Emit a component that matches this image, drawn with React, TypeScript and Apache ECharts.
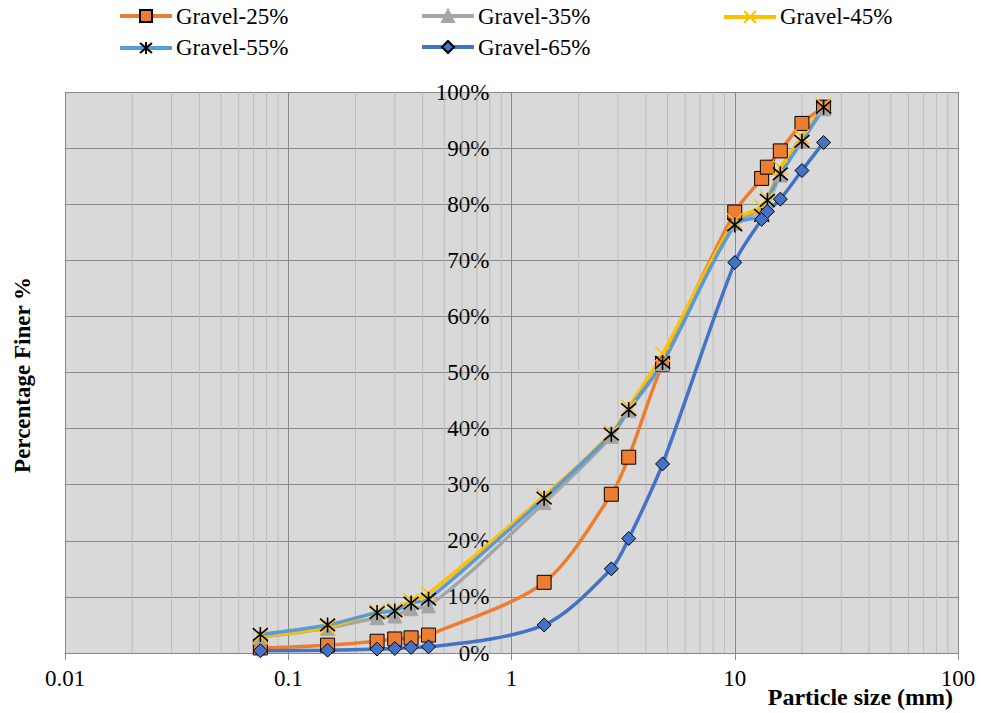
import { useEffect, useRef } from "react";
import * as echarts from "echarts";

// Sieve sizes (mm) and cumulative percentage passing for each gravel blend
const sieveSizes = [0.075, 0.15, 0.25, 0.3, 0.355, 0.425, 1.4, 2.8, 3.35, 4.75, 10, 13.2, 14, 16, 20, 25];
const gravel25 = [0.9, 1.4, 2.1, 2.5, 2.7, 3.2, 12.6, 28.3, 34.9, 51.5, 78.6, 84.6, 86.6, 89.5, 94.4, 97.3];
const gravel35 = [2.8, 4.4, 6.3, 6.6, 7.9, 8.4, 26.8, 38.6, 43.2, 51.6, 76.6, 78.8, 79.8, 85.2, 91.2, 97.0];
const gravel45 = [3.0, 4.6, 7.3, 7.7, 9.3, 10.6, 28.0, 39.2, 43.8, 53.3, 77.0, 79.5, 81.0, 86.5, 92.0, 97.6];
const gravel55 = [3.3, 5.0, 7.2, 7.5, 8.9, 9.6, 27.6, 39.0, 43.4, 51.8, 76.3, 78.0, 80.7, 85.4, 91.2, 97.3];
const gravel65 = [0.4, 0.5, 0.7, 0.8, 1.0, 1.1, 5.0, 15.0, 20.4, 33.7, 69.6, 77.3, 78.7, 80.9, 86.0, 91.0];

const seriesNames = ["Gravel-25%", "Gravel-35%", "Gravel-45%", "Gravel-55%", "Gravel-65%"];
const xTickLabels = ["0.01", "0.1", "1", "10", "100"];
const decades = [0.01, 0.1, 1, 10];
const minorSteps = [2, 3, 4, 5, 6, 7, 8, 9];

// Legend slots: [left of the key line, vertical centre of the row]
const legendSlots = [
  [118, 16],
  [420, 16],
  [722, 16],
  [118, 47],
  [420, 47],
];

const FONT = "Liberation Serif";
const MAJOR = "#888888";
const MINOR = "#BCBCBC";
const KEY_W = 52;
const KEY_H = 15;

function lineSeries(name: string, values: number[], color: string, symbol: string, symbolSize: number, itemStyle: any) {
  return {
    name,
    type: "line",
    data: sieveSizes.map((s, i) => [s, values[i]]),
    smooth: 0.3,
    symbol,
    symbolSize,
    showAllSymbol: true,
    lineStyle: { color, width: 3.5 },
    itemStyle,
    z: 3,
  };
}

export default function App() {
  const ref = useRef<HTMLDivElement>(null);

  useEffect(() => {
    if (!ref.current) return;
    const chart = echarts.init(ref.current, undefined, { renderer: "svg" });

    const minorGrid: number[][] = [];
    decades.forEach((d) => minorSteps.forEach((k) => minorGrid.push([k * d, 0])));

    // one key per series; the names are set as serif text next to each key
    const legends = seriesNames.map((name, i) => ({
      data: [name],
      left: legendSlots[i][0],
      top: legendSlots[i][1] - KEY_H / 2,
      itemWidth: KEY_W,
      itemHeight: KEY_H,
      padding: 0,
      selectedMode: false,
      lineStyle: { width: 4 },
      formatter: () => "",
    }));

    const legendLabels = seriesNames.map((name, i) => ({
      type: "text",
      x: legendSlots[i][0] + KEY_W + 6,
      y: legendSlots[i][1],
      style: {
        text: name,
        font: `23px "${FONT}"`,
        fill: "#000",
        verticalAlign: "middle",
      },
    }));

    chart.setOption({
      animation: false,
      backgroundColor: "#fff",
      textStyle: { fontFamily: FONT },
      legend: legends,
      grid: {
        left: 65,
        right: 23,
        top: 92,
        bottom: 60,
        show: true,
        backgroundColor: "#D9D9D9",
        borderWidth: 0,
      },
      xAxis: {
        type: "log",
        logBase: 10,
        min: 0.01,
        max: 100,
        axisLine: { show: true, lineStyle: { color: MAJOR, width: 1 } },
        axisTick: { show: true, length: 7, lineStyle: { color: MAJOR } },
        splitLine: { show: true, lineStyle: { color: MAJOR, width: 1 } },
        axisLabel: {
          fontSize: 23,
          fontFamily: FONT,
          color: "#000",
          margin: 14,
          formatter: (_v: number, i: number) => xTickLabels[i] ?? "",
        },
      },
      yAxis: {
        type: "value",
        min: 0,
        max: 100,
        interval: 10,
        position: "left",
        offset: -446.5,
        axisLine: { show: false },
        axisTick: { show: false },
        splitLine: { show: true, lineStyle: { color: MAJOR, width: 1 } },
        axisLabel: {
          fontSize: 23,
          fontFamily: FONT,
          color: "#000",
          margin: 22,
          formatter: "{value}%",
        },
      },
      graphic: [
        ...legendLabels,
        {
          type: "text",
          right: 28,
          top: 685,
          style: {
            text: "Particle size (mm)",
            font: `bold 24px "${FONT}"`,
            fill: "#000",
          },
        },
        {
          type: "text",
          x: 22,
          y: 375,
          rotation: Math.PI / 2,
          style: {
            text: "Percentage Finer %",
            font: `bold 23px "${FONT}"`,
            fill: "#000",
            align: "center",
            verticalAlign: "middle",
          },
        },
      ],
      series: [
        {
          type: "custom",
          silent: true,
          z: 1,
          data: minorGrid,
          encode: { x: 0, y: 1 },
          renderItem: (_p: any, api: any) => {
            const v = api.value(0);
            const a = api.coord([v, 100]);
            const b = api.coord([v, 0]);
            return {
              type: "line",
              shape: { x1: a[0], y1: a[1], x2: b[0], y2: b[1] },
              style: { stroke: MINOR, lineWidth: 1 },
            };
          },
        },
        lineSeries(seriesNames[0], gravel25, "#ED7D31", "rect", 14, {
          color: "#ED7D31",
          borderColor: "#000",
          borderWidth: 1,
        }),
        lineSeries(seriesNames[1], gravel35, "#A5A5A5", "triangle", 14, {
          color: "#A5A5A5",
          borderColor: "#A5A5A5",
          borderWidth: 1,
        }),
        lineSeries(seriesNames[2], gravel45, "#FFC000", "path://M0 0L10 10M10 0L0 10", 15, {
          color: "none",
          borderColor: "#FFC000",
          borderWidth: 1.5,
        }),
        lineSeries(seriesNames[3], gravel55, "#5B9BD5", "path://M0 0L10 10M10 0L0 10M5 -1L5 11", 15, {
          color: "none",
          borderColor: "#000",
          borderWidth: 1.6,
        }),
        lineSeries(seriesNames[4], gravel65, "#4472C4", "diamond", 14, {
          color: "#4472C4",
          borderColor: "#000",
          borderWidth: 1,
        }),
      ],
    });

    return () => chart.dispose();
  }, []);

  return (
    <div
      ref={ref}
      style={{ position: "fixed", left: 0, top: 0, width: 981, height: 713, background: "#fff" }}
    />
  );
}
